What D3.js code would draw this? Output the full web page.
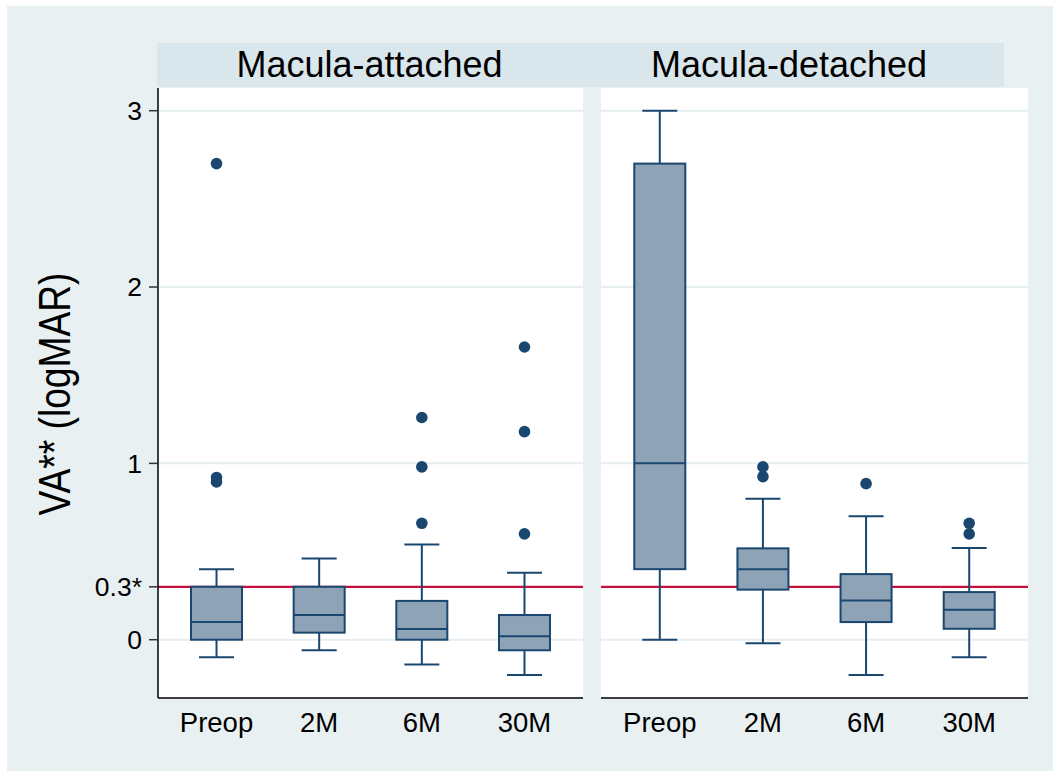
<!DOCTYPE html>
<html>
<head>
<meta charset="utf-8">
<script src="https://cdn.jsdelivr.net/npm/d3@7"></script>
<style>
  html, body { margin: 0; padding: 0; background: #ffffff; }
  svg { display: block; font-family: "Liberation Sans", Arial, sans-serif; }
</style>
</head>
<body>
<svg id="chart" width="1053" height="771"></svg>
<script>
// ---- data ----
const categories = ["Preop", "2M", "6M", "30M"];
const panelTitles = ["Macula-attached", "Macula-detached"];

const attachedLow  = [-0.10, -0.06, -0.14, -0.20];
const attachedQ1   = [0.00, 0.04, 0.00, -0.06];
const attachedMed  = [0.10, 0.14, 0.06, 0.02];
const attachedQ3   = [0.30, 0.30, 0.22, 0.14];
const attachedHigh = [0.40, 0.46, 0.54, 0.38];
const attachedOutliers = [[2.70, 0.92, 0.895], [], [1.26, 0.98, 0.66], [1.66, 1.18, 0.60]];

const detachedLow  = [0.00, -0.02, -0.20, -0.10];
const detachedQ1   = [0.40, 0.284, 0.10, 0.062];
const detachedMed  = [1.00, 0.40, 0.223, 0.17];
const detachedQ3   = [2.70, 0.518, 0.372, 0.27];
const detachedHigh = [3.00, 0.80, 0.70, 0.52];
const detachedOutliers = [[], [0.98, 0.925], [0.885], [0.66, 0.60]];

const yTickValues = [0, 0.3, 1, 2, 3];
const yTickLabels = ["0", "0.3*", "1", "2", "3"];
const gridValues = [0, 1, 2, 3];
const refValue = 0.3;
const yTitle = "VA** (logMAR)";

// ---- styles / layout ----
const bgColor = "#E8F0F2";
const headerColor = "#D9E6EC";
const gridColor = "#E6EEF1";
const boxFill = "#8FA3B7";
const navy = "#1A476F";
const refColor = "#C8103C";

const svg = d3.select("#chart");
const plotTop = 88, plotBottom = 698;
const panelsX = [[158, 583], [601, 1028]];

const y = d3.scaleLinear().domain([0, 3]).range([639.7, 110.7]);

svg.append("rect").attr("x", 7).attr("y", 6).attr("width", 1046).attr("height", 765).attr("fill", bgColor);

// header strip
svg.append("rect").attr("x", 157).attr("y", 43).attr("width", 1004 - 157).attr("height", 44).attr("fill", headerColor);
const headerCenters = [369.5, 789];
panelTitles.forEach((t, i) => {
  svg.append("text").attr("x", headerCenters[i]).attr("y", 77)
    .attr("text-anchor", "middle").attr("font-size", 36).attr("fill", "#000").text(t);
});

const panelData = [
  { low: attachedLow, q1: attachedQ1, med: attachedMed, q3: attachedQ3, high: attachedHigh, out: attachedOutliers },
  { low: detachedLow, q1: detachedQ1, med: detachedMed, q3: detachedQ3, high: detachedHigh, out: detachedOutliers }
];

const boxW = 51, capW = 35;

panelData.forEach((pd, pi) => {
  const [x0, x1] = panelsX[pi];
  const g = svg.append("g");
  g.append("rect").attr("x", x0).attr("y", plotTop).attr("width", x1 - x0).attr("height", plotBottom - plotTop).attr("fill", "#fff");

  // grid
  g.selectAll(".grid").data(gridValues).enter().append("line")
    .attr("x1", x0).attr("x2", x1)
    .attr("y1", d => y(d)).attr("y2", d => y(d))
    .attr("stroke", gridColor).attr("stroke-width", 2);

  // reference line
  g.append("line").attr("x1", x0).attr("x2", x1)
    .attr("y1", y(refValue)).attr("y2", y(refValue))
    .attr("stroke", refColor).attr("stroke-width", 2.2);

  const x = d3.scalePoint().domain(categories).range([x0, x1]).padding(0.57);

  categories.forEach((c, i) => {
    const cx = x(c);
    // whiskers
    g.append("line").attr("x1", cx).attr("x2", cx).attr("y1", y(pd.q3[i])).attr("y2", y(pd.high[i]))
      .attr("stroke", navy).attr("stroke-width", 2);
    g.append("line").attr("x1", cx).attr("x2", cx).attr("y1", y(pd.q1[i])).attr("y2", y(pd.low[i]))
      .attr("stroke", navy).attr("stroke-width", 2);
    g.append("line").attr("x1", cx - capW / 2).attr("x2", cx + capW / 2).attr("y1", y(pd.high[i])).attr("y2", y(pd.high[i]))
      .attr("stroke", navy).attr("stroke-width", 2);
    g.append("line").attr("x1", cx - capW / 2).attr("x2", cx + capW / 2).attr("y1", y(pd.low[i])).attr("y2", y(pd.low[i]))
      .attr("stroke", navy).attr("stroke-width", 2);
    // box
    g.append("rect").attr("x", cx - boxW / 2).attr("y", y(pd.q3[i]))
      .attr("width", boxW).attr("height", y(pd.q1[i]) - y(pd.q3[i]))
      .attr("fill", boxFill).attr("stroke", navy).attr("stroke-width", 2);
    g.append("line").attr("x1", cx - boxW / 2).attr("x2", cx + boxW / 2).attr("y1", y(pd.med[i])).attr("y2", y(pd.med[i]))
      .attr("stroke", navy).attr("stroke-width", 2);
    // outliers
    pd.out[i].forEach(v => {
      g.append("circle").attr("cx", cx).attr("cy", y(v)).attr("r", 5.8).attr("fill", navy);
    });
    // x labels
    g.append("text").attr("x", cx).attr("y", 732).attr("text-anchor", "middle")
      .attr("font-size", 27.5).attr("fill", "#000").text(c);
  });

  // x axis line
  g.append("line").attr("x1", x0).attr("x2", x1).attr("y1", plotBottom).attr("y2", plotBottom)
    .attr("stroke", "#000").attr("stroke-width", 1.5);
});

// y axis (left panel only)
const yAxisG = svg.append("g");
yAxisG.append("line").attr("x1", 158).attr("x2", 158).attr("y1", plotTop).attr("y2", plotBottom)
  .attr("stroke", "#000").attr("stroke-width", 1.5);
yTickValues.forEach((v, i) => {
  yAxisG.append("line").attr("x1", 149).attr("x2", 158).attr("y1", y(v)).attr("y2", y(v))
    .attr("stroke", "#333").attr("stroke-width", 1.5);
  yAxisG.append("text").attr("x", 142).attr("y", y(v)).attr("dy", "0.35em")
    .attr("text-anchor", "end").attr("font-size", 26.5).attr("fill", "#000").text(yTickLabels[i]);
});

// y title
svg.append("text")
  .attr("transform", "translate(70,394) rotate(-90)")
  .attr("text-anchor", "middle").attr("font-size", 45)
  .attr("textLength", 243).attr("lengthAdjust", "spacingAndGlyphs")
  .attr("fill", "#000").text(yTitle);
</script>
</body>
</html>
